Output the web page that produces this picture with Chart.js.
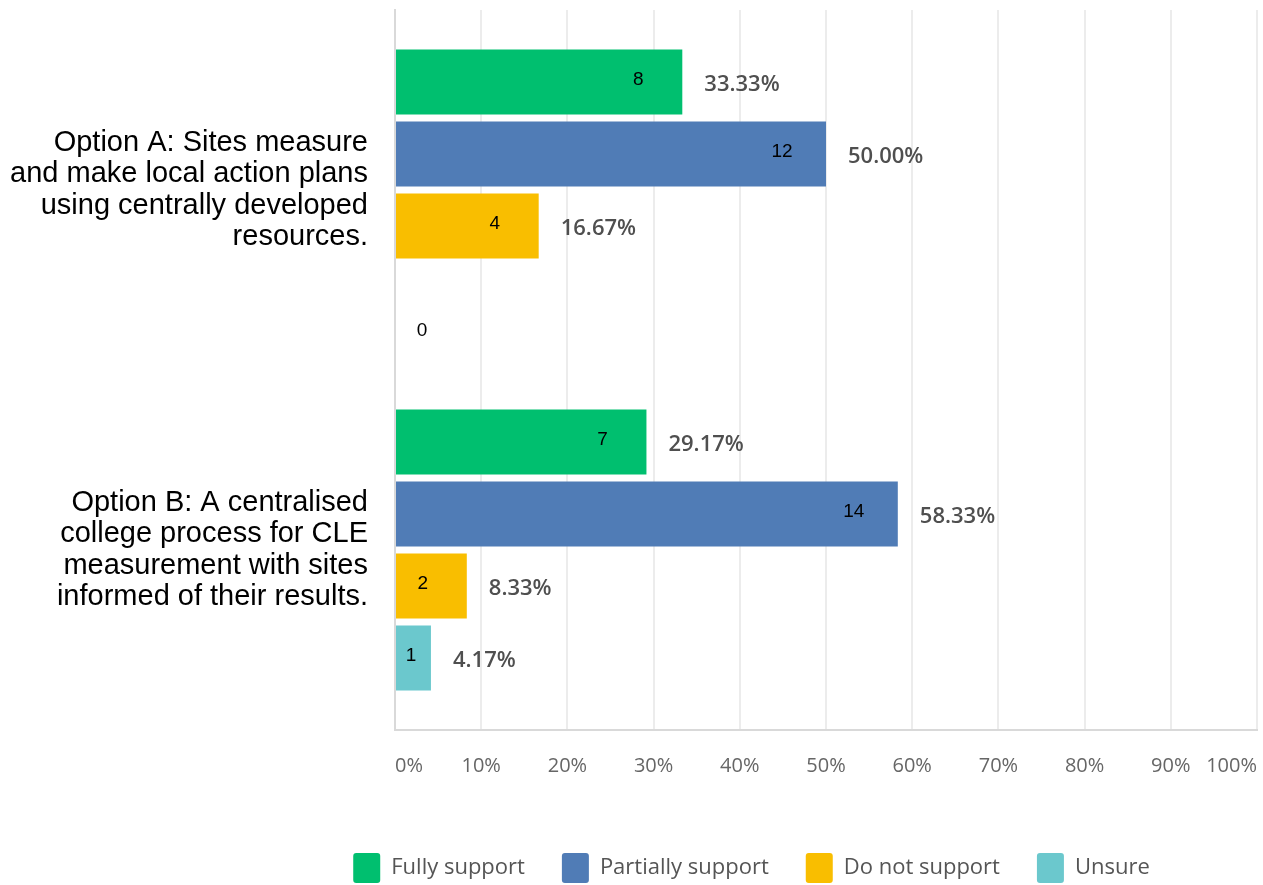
<!DOCTYPE html>
<html>
<head>
<meta charset="utf-8">
<script src="https://cdn.jsdelivr.net/npm/chart.js@4/dist/chart.umd.min.js"></script>
<style>
  html, body { margin: 0; padding: 0; background: #fff; }
  canvas { display: block; }
</style>
</head>
<body>
<canvas id="myChart" width="1263" height="885"></canvas>
<script>
// question options, one multi-line label each
const categories = [
    ["Option A: Sites measure", "and make local action plans", "using centrally developed", "resources."],
    ["Option B: A centralised", "college process for CLE", "measurement with sites", "informed of their results."]
];
const responses = ["Fully support", "Partially support", "Do not support", "Unsure"];
const colors = ["#00BF6F", "#507CB6", "#F9BE00", "#6BC8CD"];

// respondent counts per option
const fullyCounts = [8, 7];
const partialCounts = [12, 14];
const notCounts = [4, 2];
const unsureCounts = [0, 1];

// share of respondents (%) per option
const fullyPct = [33.33, 29.17];
const partialPct = [50.00, 58.33];
const notPct = [16.67, 8.33];
const unsurePct = [0, 4.17];

const xTicks = [0, 10, 20, 30, 40, 50, 60, 70, 80, 90, 100];

const countSets = [fullyCounts, partialCounts, notCounts, unsureCounts];
const pctSets = [fullyPct, partialPct, notPct, unsurePct];

const datasets = responses.map((name, i) => ({
    label: name,
    data: pctSets[i],
    counts: countSets[i],
    backgroundColor: colors[i],
    borderWidth: 0,
    barPercentage: 0.9,
    categoryPercentage: 0.8
}));

// count inside the bar, percentage just past its end
const barLabels = {
    id: 'barLabels',
    afterDatasetsDraw(chart) {
        const ctx = chart.ctx;
        ctx.save();
        ctx.textBaseline = 'middle';
        chart.data.datasets.forEach((ds, i) => {
            const meta = chart.getDatasetMeta(i);
            meta.data.forEach((bar, j) => {
                const { x, y, base, height } = bar.getProps(['x', 'y', 'base', 'height'], true);
                const count = ds.counts[j];
                ctx.fillStyle = '#000';
                ctx.font = '19px "Liberation Sans", Arial, sans-serif';
                ctx.textAlign = 'center';
                if (count === 0) {
                    ctx.fillText(String(count), base + 27, y + height / 2);
                    return;
                }
                ctx.fillText(String(count), Math.max(x - 44, base + 15), y - 2);
                ctx.fillStyle = '#4f4f4f';
                ctx.font = '600 22px "Open Sans", sans-serif';
                ctx.textAlign = 'left';
                ctx.fillText(ds.data[j].toFixed(2) + '%', x + 22, y + 3);
            });
        });
        ctx.restore();
    }
};

// legend sits right of centre, close to the bottom edge
const legendShift = {
    id: 'legendShift',
    afterLayout(chart) {
        const lg = chart.legend;
        lg.left += 123;
        lg.right += 123;
        lg.top += 14;
        lg.bottom += 14;
    }
};

new Chart(document.getElementById('myChart').getContext('2d'), {
    type: 'bar',
    data: {
        labels: categories,
        datasets: datasets
    },
    options: {
        indexAxis: 'y',
        responsive: false,
        animation: false,
        devicePixelRatio: 1,
        layout: { padding: { top: 10, right: 6, left: 0, bottom: 6 } },
        scales: {
            x: {
                min: 0,
                max: 100,
                afterBuildTicks(scale) {
                    scale.ticks = xTicks.map(v => ({ value: v }));
                },
                afterFit(scale) {
                    scale.paddingLeft = 0;
                    scale.paddingRight = 0;
                },
                ticks: {
                    align: 'inner',
                    padding: 24,
                    color: '#666',
                    font: { family: '"Open Sans", sans-serif', size: 20 },
                    callback: v => v + '%'
                },
                grid: { color: '#ececec', lineWidth: 2, drawTicks: false },
                border: { color: '#d9d9d9', width: 2 }
            },
            y: {
                afterFit(scale) {
                    scale.width = 395;
                    scale.paddingTop = 0;
                    scale.paddingBottom = 0;
                },
                ticks: {
                    padding: 27,
                    color: '#000',
                    font: { family: '"Liberation Sans", Arial, sans-serif', size: 29, lineHeight: 1.08 }
                },
                grid: { display: false, drawTicks: false },
                border: { color: '#d9d9d9', width: 2 }
            }
        },
        plugins: {
            legend: {
                position: 'bottom',
                labels: {
                    boxWidth: 27,
                    boxHeight: 30,
                    useBorderRadius: true,
                    borderRadius: 3,
                    padding: 37,
                    color: '#555',
                    font: { family: '"Open Sans", sans-serif', size: 22 }
                }
            },
            tooltip: { enabled: false }
        }
    },
    plugins: [barLabels, legendShift]
});
</script>
</body>
</html>
